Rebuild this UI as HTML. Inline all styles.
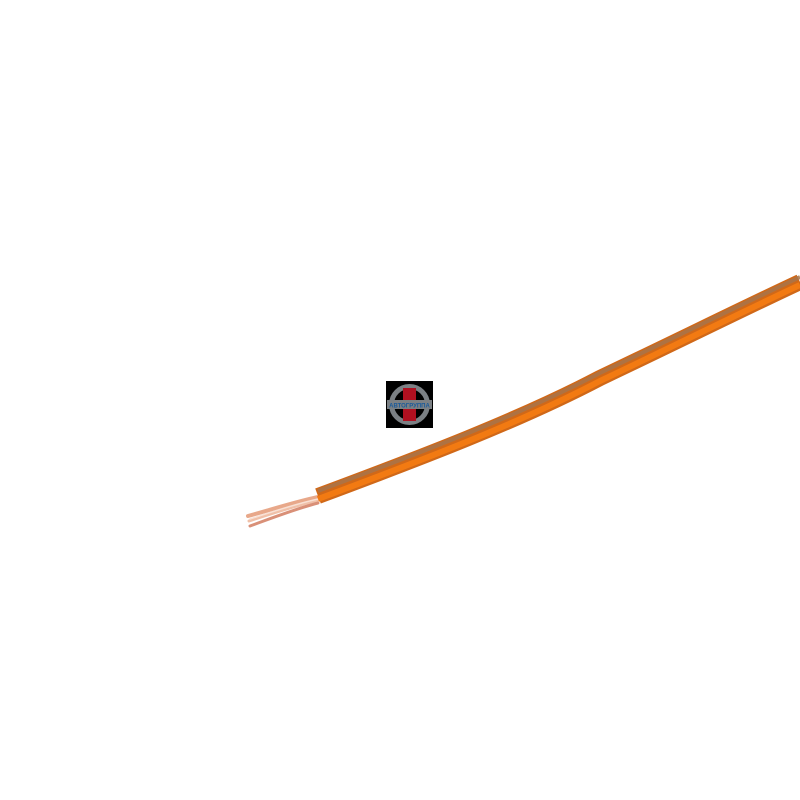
<!DOCTYPE html>
<html><head><style>html,body{margin:0;padding:0;background:#fff;width:800px;height:800px;overflow:hidden}</style></head>
<body>
<svg width="800" height="800" viewBox="0 0 800 800" xmlns="http://www.w3.org/2000/svg">
<rect width="800" height="800" fill="#fff"/>
<g stroke-linecap="round" fill="none">
<path d="M318,497 C295,502 270,510 248,516" stroke="#e8a88a" stroke-width="4"/>
<path d="M318,500 C295,506 270,514 249,521" stroke="#f0c0a8" stroke-width="3"/>
<path d="M318,503 C295,509 272,518 250,526" stroke="#d99078" stroke-width="3"/>
<path d="M318,499 C295,504 272,512 250,519" stroke="#f8e0d4" stroke-width="1.5"/>
</g>
<path d="M318,496 C420,458 520,420 600,378 C680,340 740,310 800,282" stroke="#d06818" stroke-width="16" fill="none"/>
<path d="M318,491 C420,453 520,415 600,373 C680,335 740,305 800,277" stroke="#a8744a" stroke-width="4" fill="none" opacity="0.85"/>
<path d="M318,499 C420,461 520,423 600,381 C680,343 740,313 800,285" stroke="#f27a12" stroke-width="6" fill="none"/>
<rect x="386" y="381" width="47" height="47" fill="#000"/>
<circle cx="409.5" cy="404.5" r="18" fill="none" stroke="#7b8084" stroke-width="5"/>
<rect x="403" y="388" width="13" height="33" fill="#b01020"/>
<rect x="387" y="400" width="45" height="9" fill="#7b8084"/>
<text x="409.5" y="407.5" font-family="Liberation Sans, sans-serif" font-size="6" font-weight="bold" fill="#1a5a9a" text-anchor="middle">АВТОГРУППА</text>
</svg>
</body></html>
